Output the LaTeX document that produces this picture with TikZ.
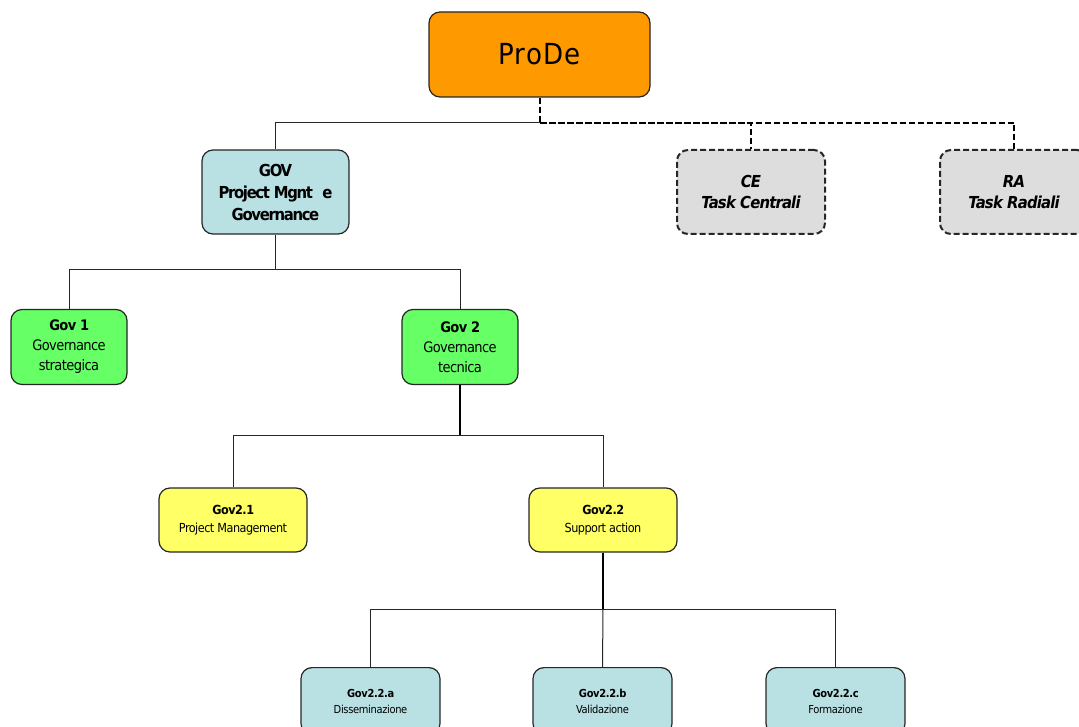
\documentclass[tikz,border=0pt]{standalone}
\usepackage{fontspec}
\setmainfont{DejaVu Sans Condensed}
\begin{document}
\begin{tikzpicture}[x=1pt,y=-1pt,
  box/.style={draw=black!85,line width=1.2pt,rounded corners=11pt,align=center,inner sep=0pt},
  lvl0/.style={box,fill={rgb,255:red,255;green,153;blue,0},minimum width=221pt,minimum height=85pt,font=\fontsize{29}{32}\selectfont\addfontfeatures{LetterSpace=4}},
  blue1/.style={box,fill={rgb,255:red,185;green,224;blue,227},minimum width=147pt,minimum height=84pt,font=\fontsize{16.5}{22}\selectfont\bfseries\addfontfeatures{LetterSpace=-8}},
  grey1/.style={box,dashed,dash pattern=on 6pt off 3pt,line width=2pt,fill={rgb,255:red,221;green,221;blue,221},minimum width=148pt,minimum height=84pt,font=\fontsize{16.5}{21}\selectfont\bfseries\itshape\addfontfeatures{LetterSpace=-5}},
  green1/.style={box,fill={rgb,255:red,102;green,255;blue,102},minimum width=116pt,minimum height=75pt,font=\fontsize{14.5}{20}\selectfont\addfontfeatures{LetterSpace=-4}},
  yellow1/.style={box,fill={rgb,255:red,255;green,255;blue,102},minimum width=148pt,minimum height=64pt,font=\fontsize{12.5}{18}\selectfont\addfontfeatures{LetterSpace=-4}},
  blue2/.style={box,fill={rgb,255:red,185;green,224;blue,227},minimum width=139pt,minimum height=67pt,font=\fontsize{11}{16}\selectfont\addfontfeatures{LetterSpace=-3}},
  conn/.style={draw=black!85,line width=1pt},
  thick conn/.style={draw=black,line width=2pt},
  dconn/.style={draw=black,line width=2pt,dash pattern=on 6pt off 3pt}]
\useasboundingbox (0,0) rectangle (1079,727);
\node[lvl0] (prode) at (539.5,54.5) {ProDe};
\node[blue1] (gov) at (275.5,192) {GOV\\Project Mgnt\,\, e\\Governance};
\node[grey1] (ce) at (751,192) {CE\\Task Centrali};
\node[grey1] (ra) at (1014,192) {RA\\Task Radiali};
\node[green1] (gov1) at (69,347) {\textbf{Gov 1}\\Governance\\strategica};
\node[green1] (gov2) at (460,347) {\textbf{Gov 2}\\Governance\\tecnica};
\node[yellow1] (g21) at (233,520) {\textbf{Gov2.1}\\Project Management};
\node[yellow1] (g22) at (603,520) {\textbf{Gov2.2}\\Support action};
\node[blue2,anchor=north] (g22a) at (370.5,667) {\textbf{Gov2.2.a}\\Disseminazione};
\node[blue2,anchor=north] (g22b) at (602.5,667) {\textbf{Gov2.2.b}\\Validazione};
\node[blue2,anchor=north] (g22c) at (835.5,667) {\textbf{Gov2.2.c}\\Formazione};
% connectors
\coordinate (j0) at (539.5,123);
\draw[conn] (j0) -| (gov.north);
\draw[dconn] (prode.south) -- (j0) -| (ce.north);
\draw[dconn] (j0) -| (ra.north);
\coordinate (j1) at (275.5,270);
\draw[conn] (gov.south) -- (j1);
\draw[conn] (j1) -| (gov1.north);
\draw[conn] (j1) -| (gov2.north);
\coordinate (j2) at (460,435);
\draw[thick conn] (gov2.south) -- (j2);
\draw[conn] (j2) -| (g21.north);
\draw[conn] (j2) -| (g22.north);
\coordinate (j3) at (603,609);
\draw[thick conn] (g22.south) -- (j3);
\draw[conn] (j3) -| (g22a.north);
\draw[conn] (j3) -| (g22c.north);
\draw[conn] (j3) -- (g22b.north);
\end{tikzpicture}
\end{document}
